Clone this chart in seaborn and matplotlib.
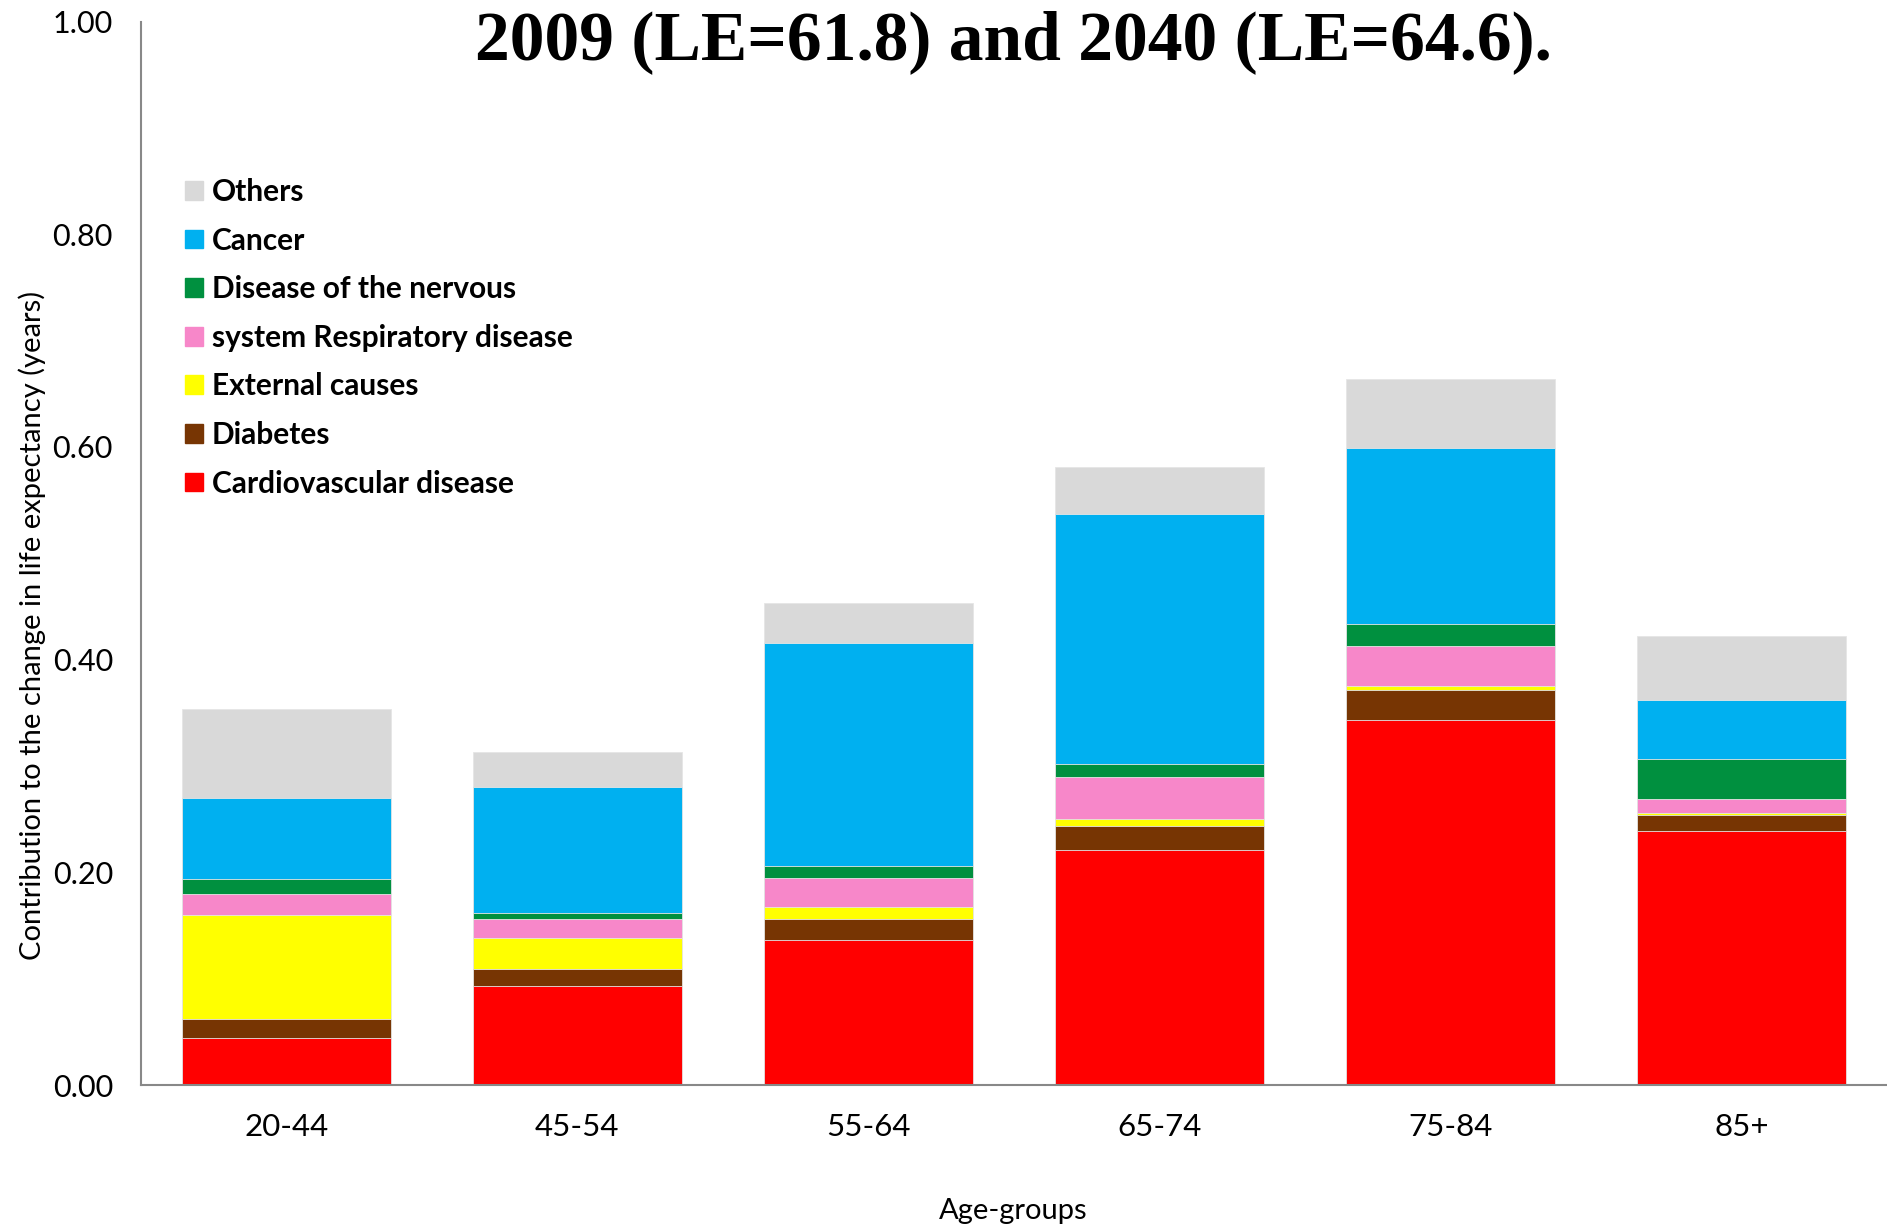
import matplotlib
matplotlib.use("Agg")
import matplotlib.pyplot as plt
import matplotlib.patches as mpatches
import numpy as np
import pandas as pd
import seaborn as sns

age_groups = ["20-44", "45-54", "55-64", "65-74", "75-84", "85+"]

# contribution per cause, bottom of the stack first
cardiovascular = [0.044, 0.093, 0.136, 0.221, 0.343, 0.239]
diabetes = [0.018, 0.016, 0.020, 0.023, 0.028, 0.015]
external = [0.098, 0.029, 0.011, 0.006, 0.004, 0.002]
respiratory = [0.020, 0.018, 0.028, 0.040, 0.038, 0.013]
nervous = [0.014, 0.006, 0.011, 0.012, 0.021, 0.038]
cancer = [0.076, 0.118, 0.210, 0.235, 0.165, 0.055]
others = [0.084, 0.033, 0.037, 0.044, 0.065, 0.060]

causes = ["Cardiovascular disease", "Diabetes", "External causes",
          "system Respiratory disease", "Disease of the nervous", "Cancer", "Others"]
colors = ["#FF0000", "#773503", "#FFFF00", "#F787C9", "#00903F", "#00B0F0", "#D9D9D9"]

df = pd.DataFrame({
    "age": age_groups,
    "Cardiovascular disease": cardiovascular,
    "Diabetes": diabetes,
    "External causes": external,
    "system Respiratory disease": respiratory,
    "Disease of the nervous": nervous,
    "Cancer": cancer,
    "Others": others,
})
cum = df[causes].cumsum(axis=1)
cum["age"] = df["age"]

sns.set_style("white")
plt.rcParams["font.family"] = ["Lato", "DejaVu Sans"]
plt.rcParams["text.color"] = "black"
plt.rcParams["xtick.color"] = "black"
plt.rcParams["ytick.color"] = "black"

fig = plt.figure(figsize=(18.87, 12.27), dpi=100)
ax = fig.add_axes([0.0746, 0.1157, 0.9254, 0.8667])

# draw cumulative heights from the top layer down so they stack
for cause, col in zip(causes[::-1], colors[::-1]):
    sns.barplot(data=cum, x="age", y=cause, color=col, width=0.72,
                saturation=1, edgecolor="#e6e6e6", linewidth=0.6, ax=ax)

ax.set_xlim(-0.5, 5.5)
ax.set_ylim(0, 1.0)
ax.set_yticks(np.arange(0, 1.01, 0.2))
ax.set_yticklabels([f"{v:.2f}" for v in np.arange(0, 1.01, 0.2)])
ax.set_xticks(range(len(age_groups)))
ax.set_xticks(np.arange(-0.5, 5.6, 1), minor=True)
ax.tick_params(axis="x", which="major", length=0, labelsize=22.5, pad=20)
ax.tick_params(axis="x", which="minor", length=8, width=1.5, color="#888888", direction="out")
ax.tick_params(axis="y", length=7, width=1.5, color="#888888", direction="out", labelsize=22, pad=13)
ax.set_xlabel("")
ax.set_ylabel("")
for s in ["top", "right"]:
    ax.spines[s].set_visible(False)
for s in ["left", "bottom"]:
    ax.spines[s].set_color("#888888")
    ax.spines[s].set_linewidth(1.5)

fig.text(0.017, 0.49, "Contribution to the change in life expectancy (years)",
         rotation=90, ha="center", va="center", fontsize=21)
fig.text(0.537, 0.0127, "Age-groups", ha="center", va="center", fontsize=21)
fig.text(0.537, 0.966, "2009 (LE=61.8) and 2040 (LE=64.6).", ha="center", va="center",
         fontsize=50, fontweight="bold", family="Liberation Serif")

handles = [mpatches.Patch(color=c, label=l) for l, c in zip(causes[::-1], colors[::-1])]
fig.legend(handles=handles, loc="upper left", bbox_to_anchor=(0.098, 0.855),
           frameon=False, prop={"size": 21.5, "weight": "bold"},
           handlelength=0.6, handleheight=0.6, handletextpad=0.3,
           labelspacing=0.69, borderpad=0, borderaxespad=0)

fig.savefig("out.png", dpi=100)
